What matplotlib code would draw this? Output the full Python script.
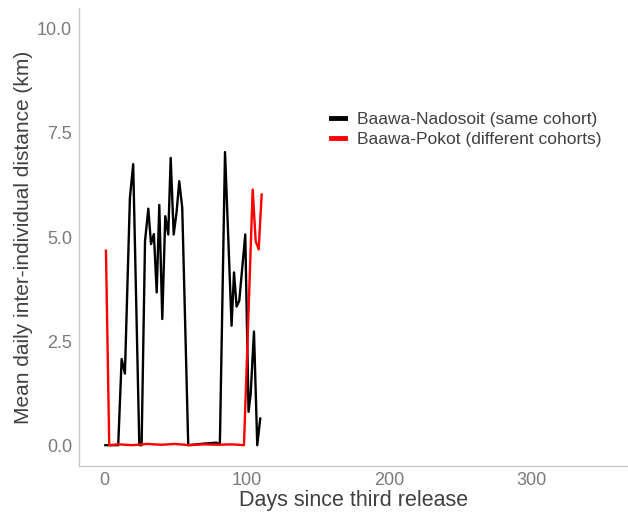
import matplotlib
matplotlib.use("Agg")
import matplotlib.pyplot as plt

plt.rcParams['font.family'] = ['Liberation Sans', 'DejaVu Sans']

# Data
nadosoit_days = [1, 10, 12.4, 14.7, 18.2, 20.5, 24.8, 26.4, 28.8, 31.1, 33.0, 35.0, 37.0,
                 38.8, 40.9, 43.0, 45.1, 46.8, 48.9, 51.0, 52.8, 54.9, 59.1, 65, 71, 75,
                 79, 80.5, 81.3, 84.9, 89.5, 91.2, 93.0, 94.9, 99.1, 101.4, 102.9, 105.2,
                 107.5, 109.6]
nadosoit_vals = [0.0, 0.0, 2.07, 1.72, 5.94, 6.75, 0.0, 0.0, 4.9, 5.68, 4.83, 5.07, 3.67,
                 5.77, 3.03, 5.5, 5.06, 6.9, 5.06, 5.62, 6.34, 5.7, 0.0, 0.02, 0.04, 0.05,
                 0.06, 0.03, 0.05, 7.04, 2.87, 4.15, 3.33, 3.47, 5.06, 0.8, 1.24, 2.73,
                 0.0, 0.64]

pokot_days = [1.4, 3.7, 10, 20, 30, 40, 50, 60, 70, 80, 90, 98.2, 104.3, 106.4, 108.5, 110.6]
pokot_vals = [4.67, 0.0, 0.02, 0.0, 0.03, 0.01, 0.03, 0.0, 0.02, 0.01, 0.02, 0.0,
              6.14, 4.9, 4.7, 6.02]

series_labels = ["Baawa-Nadosoit (same cohort)", "Baawa-Pokot (different cohorts)"]
x_ticks = [0, 100, 200, 300]
y_ticks = [0.0, 2.5, 5.0, 7.5, 10.0]

fig = plt.figure(figsize=(6.28, 5.16), dpi=100)
ax = fig.add_axes([79/628, 50/516, 549/628, 458/516])

ax.plot(nadosoit_days, nadosoit_vals, color='black', lw=1.7, label=series_labels[0])
ax.plot(pokot_days, pokot_vals, color='#ff0000', lw=1.7, label=series_labels[1])

ax.set_xlim(-17.5, 367.5)
ax.set_ylim(-0.5, 10.5)
ax.set_xticks(x_ticks)
ax.set_xticklabels([str(t) for t in x_ticks])
ax.set_yticks(y_ticks)
ax.set_yticklabels([f"{t:.1f}" for t in y_ticks])
ax.tick_params(length=0, labelsize=13, labelcolor='#7a7a7a')
ax.tick_params(axis='x', pad=4)
ax.tick_params(axis='y', pad=5)

for s in ['top', 'right']:
    ax.spines[s].set_visible(False)
for s in ['left', 'bottom']:
    ax.spines[s].set_color('#c8c8c8')
    ax.spines[s].set_linewidth(1.0)

ax.set_xlabel("Days since third release", fontsize=15.5, color='#404040', labelpad=1)
ax.set_ylabel("Mean daily inter-individual distance (km)", fontsize=15, color='#404040', labelpad=3)

leg = ax.legend(loc='upper left', bbox_to_anchor=(245/549, 1 - 97/458), frameon=False,
                fontsize=12.5, handlelength=0.8, handletextpad=0.7, labelspacing=0.3,
                borderaxespad=0)
for t in leg.get_texts():
    t.set_color('#404040')
for h in leg.get_lines():
    h.set_linewidth(3.5)

fig.savefig("out.png", dpi=100)
